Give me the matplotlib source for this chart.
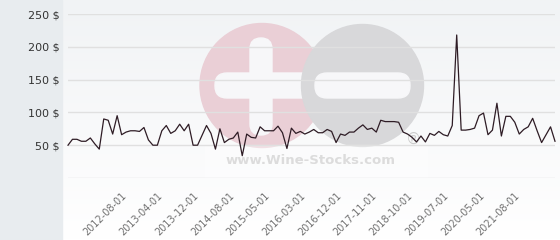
import numpy as np
import matplotlib
matplotlib.use('Agg')
import matplotlib.pyplot as plt
from matplotlib.patches import Circle, Rectangle, FancyBboxPatch

# price series (one value per point)
prices = [50, 59, 59, 56, 56, 61, 52, 44, 90, 88,
          67, 95, 66, 70, 72, 72, 71, 77, 58, 50,
          50, 72, 80, 68, 72, 82, 72, 82, 50, 50,
          65, 80, 68, 44, 75, 54, 59, 61, 70, 34,
          67, 62, 61, 78, 72, 72, 72, 79, 69, 45,
          76, 68, 71, 67, 70, 74, 69, 69, 74, 71,
          54, 67, 65, 70, 70, 76, 81, 74, 76, 70,
          88, 86, 86, 86, 85, 70, 67, 62, 55, 64,
          55, 68, 65, 71, 66, 64, 80, 218, 73, 73,
          74, 76, 95, 99, 66, 73, 114, 64, 94, 94,
          85, 67, 74, 78, 91, 72, 54, 66, 78, 56]

date_labels = ['2012-08-01', '2013-04-01', '2013-12-01', '2014-08-01',
               '2015-05-01', '2016-03-01', '2016-12-01', '2017-11-01',
               '2018-10-01', '2019-07-01', '2020-05-01', '2021-08-01']
first_label = 12
label_step = 8

y_ticks = [0, 50, 100, 150, 200, 250]
y_labels = ['' if v == 0 else '%d $' % v for v in y_ticks]

fig = plt.figure(figsize=(5.6, 2.4), dpi=100)

# background + watermark, in pixel coords
bg = fig.add_axes([0, 0, 1, 1], zorder=0)
grad = np.linspace(0, 1, 100).reshape(-1, 1)
cmap = matplotlib.colors.LinearSegmentedColormap.from_list('g', ['#f1f3f5', '#ffffff'])
bg.imshow(grad, extent=(62, 560, 240, 0), cmap=cmap, aspect='auto', zorder=0)
bg.add_patch(Rectangle((0, 0), 62, 240, color='#e8ecef', zorder=1))
bg.set_xlim(0, 560)
bg.set_ylim(240, 0)
bg.axis('off')

bg.add_patch(Circle((262, 85.5), 62, color='#eacfd6', zorder=2))
bg.add_patch(FancyBboxPatch((250, 38), 22, 97, boxstyle='round,pad=0,rounding_size=11',
                            color='#f7f7f9', zorder=3))
bg.add_patch(FancyBboxPatch((215, 73), 105, 25, boxstyle='round,pad=0,rounding_size=12',
                            color='#f7f7f9', zorder=3))
bg.add_patch(Circle((362.5, 85.5), 61, color='#d8d8da', zorder=4))
bg.add_patch(FancyBboxPatch((315, 73), 95, 25, boxstyle='round,pad=0,rounding_size=12',
                            color='#f7f7f9', zorder=5))
bg.add_patch(Rectangle((205, 145), 222, 32, color='#ffffff', alpha=0.35, zorder=5))
bg.text(311, 161, 'www.Wine-Stocks.com', fontsize=9.5, fontweight='bold', color='#dcdcdc',
        ha='center', va='center', zorder=6)
bg.text(413, 139, '\u00ae', fontsize=11, color='#cccccc', ha='center', va='center', zorder=6)

# chart
ax = fig.add_axes([68 / 560, 62 / 240, 487 / 560, 164 / 240], zorder=1)
ax.patch.set_alpha(0)
x = np.arange(len(prices))
ax.plot(x, prices, color='#2e1c25', linewidth=0.9, clip_on=False, zorder=3)
ax.set_xlim(0, len(prices) - 1)
ax.set_ylim(0, 250)

ax.set_yticks(y_ticks)
ax.set_yticklabels(y_labels, fontsize=8, color='#333333')
ax.grid(axis='y', color='#e0e0e0', linewidth=1)
ax.set_axisbelow(True)

tick_pos = [first_label + label_step * i for i in range(len(date_labels))]
ax.set_xticks(tick_pos)
ax.set_xticklabels(date_labels, fontsize=7, color='#707070', rotation=45,
                   ha='right', va='top', rotation_mode='anchor')
ax.tick_params(axis='both', length=0)
ax.tick_params(axis='y', pad=6)
ax.tick_params(axis='x', pad=9)
for s in ax.spines.values():
    s.set_visible(False)

plt.savefig('out.png', dpi=100)
